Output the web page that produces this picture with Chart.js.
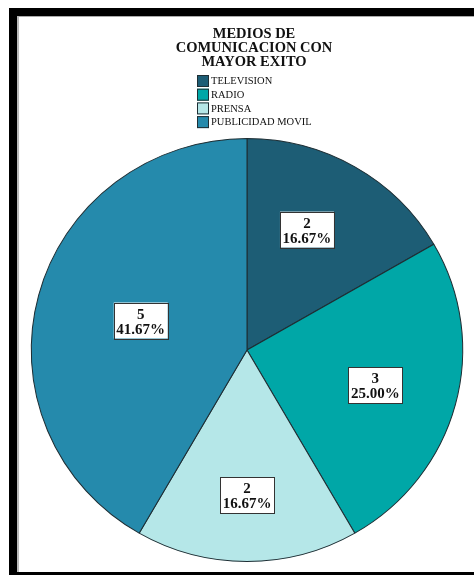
<!DOCTYPE html>
<html>
<head>
<meta charset="utf-8">
<script src="https://cdn.jsdelivr.net/npm/chart.js@4.4.1/dist/chart.umd.min.js"></script>
<style>
    html, body { margin: 0; padding: 0; background: #fff; overflow: hidden; }
    #frame {
        position: absolute;
        left: 9px;
        top: 8px;
        width: 465px;
        height: 567px;
        box-sizing: border-box;
        border-top: 8px solid #000;
        border-left: 8px solid #000;
        border-bottom: 3px solid #000;
    }
    #inner {
        position: absolute;
        left: 0; top: 0; right: 0; bottom: 0;
        border-top: 1px solid #aaa;
        border-left: 2px solid #bbb;
    }
    #wrap {
        position: absolute;
        left: 0; top: 0;
        width: 455px;
        height: 552px;
    }
</style>
</head>
<body>
<div id="frame"><div id="inner"><div id="wrap"><canvas id="mediosChart"></canvas></div></div></div>
<script>
// Medios de comunicación con mayor éxito
const titleLines = ['MEDIOS DE', 'COMUNICACION CON', 'MAYOR EXITO'];
const categories = ['TELEVISION', 'RADIO', 'PRENSA', 'PUBLICIDAD MOVIL'];
const counts = [2, 3, 2, 5];
const percents = ['16.67%', '25.00%', '16.67%', '41.67%'];

const sliceColors = ['#1d5d75', '#00a7a7', '#b5e7e8', '#258aac'];
const edgeColor = '#1e2e34';
// small tweaks to the default label spot, in pixels
const labelNudge = [[-8, -5], [-3, 1], [0, 12], [25, 5]];
// the pie is drawn a touch wider than tall
const pieStretchX = 1.02;

const serif = '"Liberation Serif", "DejaVu Serif", serif';

// title + vertical legend drawn above the pie
const headerPlugin = {
    id: 'header',
    afterDraw(chart) {
        const ctx = chart.ctx;
        ctx.save();
        ctx.fillStyle = '#111';
        ctx.textAlign = 'center';
        ctx.textBaseline = 'alphabetic';
        ctx.font = 'bold 14.5px ' + serif;
        titleLines.forEach((line, i) => {
            ctx.fillText(line, 235, 21 + i * 14.2);
        });

        ctx.textAlign = 'left';
        ctx.textBaseline = 'middle';
        ctx.font = '10.5px ' + serif;
        categories.forEach((name, i) => {
            const cy = 64 + i * 13.7;
            ctx.fillStyle = sliceColors[i];
            ctx.fillRect(178, cy - 6, 12, 12);
            ctx.strokeStyle = edgeColor;
            ctx.lineWidth = 1;
            ctx.strokeRect(178.5, cy - 5.5, 11, 11);
            ctx.fillStyle = '#111';
            ctx.fillText(name, 192, cy + 0.5);
        });
        ctx.restore();
    }
};

// widen the pie, then put boxed value/percent labels on each slice
const sliceLabelPlugin = {
    id: 'sliceLabels',
    beforeDatasetsDraw(chart) {
        const ctx = chart.ctx;
        const arc = chart.getDatasetMeta(0).data[0];
        ctx.save();
        ctx.translate(arc.x, arc.y);
        ctx.scale(pieStretchX, 1);
        ctx.translate(-arc.x, -arc.y);
    },
    afterDatasetsDraw(chart) {
        const ctx = chart.ctx;
        ctx.restore();
        const meta = chart.getDatasetMeta(0);
        ctx.save();
        ctx.font = 'bold 15px ' + serif;
        ctx.textAlign = 'center';
        ctx.textBaseline = 'alphabetic';
        meta.data.forEach((arc, i) => {
            const p = arc.getProps(['x', 'y', 'startAngle', 'endAngle', 'outerRadius'], true);
            const mid = (p.startAngle + p.endAngle) / 2;
            const d = p.outerRadius * 0.63;
            const x = p.x + Math.cos(mid) * d * pieStretchX + labelNudge[i][0];
            const y = p.y + Math.sin(mid) * d + labelNudge[i][1];
            const w = 54, h = 36;
            ctx.fillStyle = '#fff';
            ctx.fillRect(x - w / 2, y - h / 2, w, h);
            ctx.strokeStyle = '#333';
            ctx.lineWidth = 1;
            ctx.strokeRect(Math.round(x - w / 2) + 0.5, Math.round(y - h / 2) + 0.5, w, h);
            ctx.fillStyle = '#111';
            ctx.fillText(String(counts[i]), x, y - 2);
            ctx.fillText(percents[i], x, y + 13);
        });
        ctx.restore();
    }
};

new Chart(document.getElementById('mediosChart').getContext('2d'), {
    type: 'pie',
    data: {
        labels: categories,
        datasets: [{
            data: counts,
            backgroundColor: sliceColors,
            borderColor: edgeColor,
            borderWidth: 1
        }]
    },
    options: {
        responsive: true,
        maintainAspectRatio: false,
        animation: false,
        layout: {
            padding: { top: 121, bottom: 7, left: 1, right: 0 }
        },
        plugins: {
            legend: { display: false },
            title: { display: false },
            tooltip: { enabled: false }
        }
    },
    plugins: [headerPlugin, sliceLabelPlugin]
});
</script>
</body>
</html>
